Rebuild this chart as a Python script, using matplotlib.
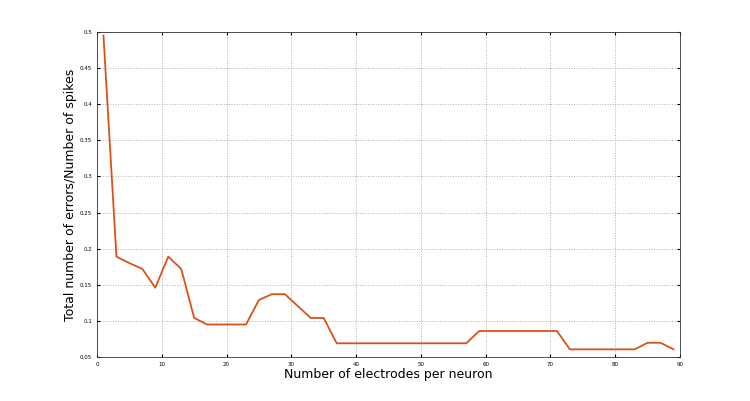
import matplotlib
matplotlib.use('Agg')
import matplotlib.pyplot as plt
import numpy as np

# electrodes per neuron (odd values 1..89)
electrodes = list(range(1, 90, 2))
errors = [0.495, 0.189, 0.180, 0.172, 0.146, 0.189, 0.172, 0.104, 0.095, 0.095,
          0.095, 0.095, 0.129, 0.137, 0.137, 0.1205, 0.104, 0.104,
          0.069, 0.069, 0.069, 0.069, 0.069, 0.069, 0.069, 0.069, 0.069, 0.069, 0.069,
          0.086, 0.086, 0.086, 0.086, 0.086, 0.086, 0.086,
          0.0606, 0.0606, 0.0606, 0.0606, 0.0606, 0.0606,
          0.0697, 0.0697, 0.0606]

fig = plt.figure(figsize=(7.5, 4.01), dpi=100)
ax = fig.add_axes([97/750, 1-357/401, (680-97)/750, (357-32)/401])
ax.plot(electrodes, errors, color='#D95319', linewidth=1.3)
ax.set_xlim(0, 90)
ax.set_ylim(0.05, 0.5)
ax.set_xticks(np.arange(0, 91, 10))
ax.set_yticks(np.arange(0.05, 0.501, 0.05))
ax.set_yticklabels(['0.05', '0.1', '0.15', '0.2', '0.25', '0.3', '0.35', '0.4', '0.45', '0.5'])
ax.tick_params(labelsize=4, length=2, direction='in', top=True, right=True)
ax.grid(True, linestyle=':', color='#b0b0b0', linewidth=0.7)
ax.set_xlabel('Number of electrodes per neuron', fontsize=9, labelpad=1)
ax.set_ylabel('Total number of errors/Number of spikes', fontsize=9, labelpad=2)
for s in ax.spines.values():
    s.set_color('#333333')
    s.set_linewidth(0.6)
fig.savefig('out.png', dpi=100)
